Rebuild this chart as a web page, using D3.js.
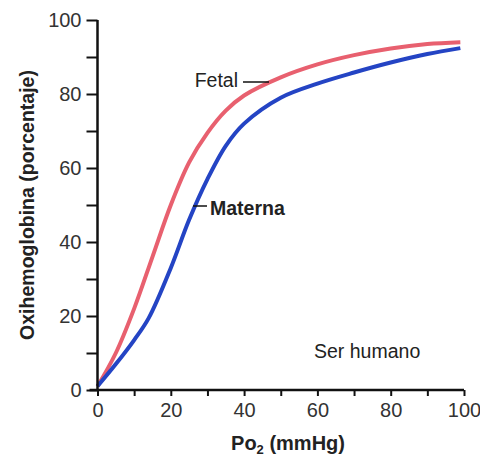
<!DOCTYPE html>
<html><head><meta charset="utf-8">
<script src="https://cdn.jsdelivr.net/npm/d3@7"></script>
<style>body{margin:0;background:#fff}svg{display:block}text{font-family:"Liberation Sans",Arial,sans-serif}</style>
</head><body>
<script>
const po2 = [0, 5, 10, 15, 20, 25, 30, 35, 40, 50, 60, 70, 80, 90, 99];
const fetal = [1, 10, 22, 36, 50, 61.5, 69.5, 75.5, 79.6, 84.5, 88, 90.5, 92.3, 93.5, 94];
const maternaX = [0, 5, 10, 14, 20, 25, 30, 35, 40, 50, 60, 70, 80, 90, 99];
const materna = [1, 7, 13.5, 19.5, 33, 46, 57, 66, 72, 79, 82.8, 85.8, 88.5, 90.8, 92.4];
const xTickLabels = [0, 20, 40, 60, 80, 100];
const yTickLabels = [0, 20, 40, 60, 80, 100];

const W = 480, H = 459;
const svg = d3.select("body").append("svg").attr("width", W).attr("height", H);
const x = d3.scaleLinear().domain([0, 100]).range([97.5, 464]);
const y = d3.scaleLinear().domain([0, 100]).range([390, 20]);

const line = d3.line().x(d => x(d[0])).y(d => y(d[1])).curve(d3.curveCatmullRom.alpha(0.5));
svg.append("path").datum(po2.map((v, i) => [v, fetal[i]]))
  .attr("d", line).attr("fill", "none").attr("stroke", "#e8606f").attr("stroke-width", 4);
svg.append("path").datum(maternaX.map((v, i) => [v, materna[i]]))
  .attr("d", line).attr("fill", "none").attr("stroke", "#2444c4").attr("stroke-width", 4);

// Y axis
const yAxis = d3.axisLeft(y).tickValues(d3.range(0, 101, 10)).tickSize(11)
  .tickFormat(d => yTickLabels.includes(d) ? d : "");
const gy = svg.append("g").attr("transform", `translate(${x(0)},0)`).call(yAxis);
gy.select(".domain").attr("stroke", "#111").attr("stroke-width", 2.5).attr("d", `M0,${y(100)}V${y(0)+1}`);
gy.selectAll(".tick line").attr("stroke", "#111").attr("stroke-width", 2);
gy.selectAll(".tick text").attr("font-size", 20).attr("fill", "#333").attr("x", -16);

// X axis
const xAxis = d3.axisBottom(x).tickValues(d3.range(0, 101, 10)).tickSize(6)
  .tickFormat(d => xTickLabels.includes(d) ? d : "");
const gx = svg.append("g").attr("transform", `translate(0,${y(0)})`).call(xAxis);
gx.select(".domain").attr("stroke", "#111").attr("stroke-width", 2.5).attr("d", `M${x(0)-8},0H${x(100)}`);
gx.selectAll(".tick line").attr("stroke", "#111").attr("stroke-width", 2);
gx.selectAll(".tick text").attr("font-size", 20).attr("fill", "#333").attr("y", 13);

// Axis titles
svg.append("text").attr("transform", "translate(34,205) rotate(-90)")
  .attr("text-anchor", "middle").attr("font-size", 19.5).attr("font-weight", "bold").attr("fill", "#222")
  .text("Oxihemoglobina (porcentaje)");
const xt = svg.append("text").attr("x", 288).attr("y", 450).attr("text-anchor", "middle")
  .attr("font-size", 20).attr("font-weight", "bold").attr("fill", "#222");
xt.append("tspan").text("Po");
xt.append("tspan").attr("font-size", 13).attr("dy", 4).text("2");
xt.append("tspan").attr("dy", -4).text(" (mmHg)");

// Annotations
svg.append("text").attr("x", 238).attr("y", 87).attr("text-anchor", "end")
  .attr("font-size", 19.5).attr("fill", "#222").text("Fetal");
svg.append("line").attr("x1", 243).attr("x2", 269).attr("y1", 82).attr("y2", 82)
  .attr("stroke", "#111").attr("stroke-width", 1.5);
svg.append("text").attr("x", 210).attr("y", 215)
  .attr("font-size", 19.5).attr("font-weight", "bold").attr("fill", "#222").text("Materna");
svg.append("line").attr("x1", 193).attr("x2", 207).attr("y1", 206).attr("y2", 206)
  .attr("stroke", "#111").attr("stroke-width", 1.5);
svg.append("text").attr("x", 314).attr("y", 358)
  .attr("font-size", 19.5).attr("fill", "#222").text("Ser humano");
</script>
</body></html>
